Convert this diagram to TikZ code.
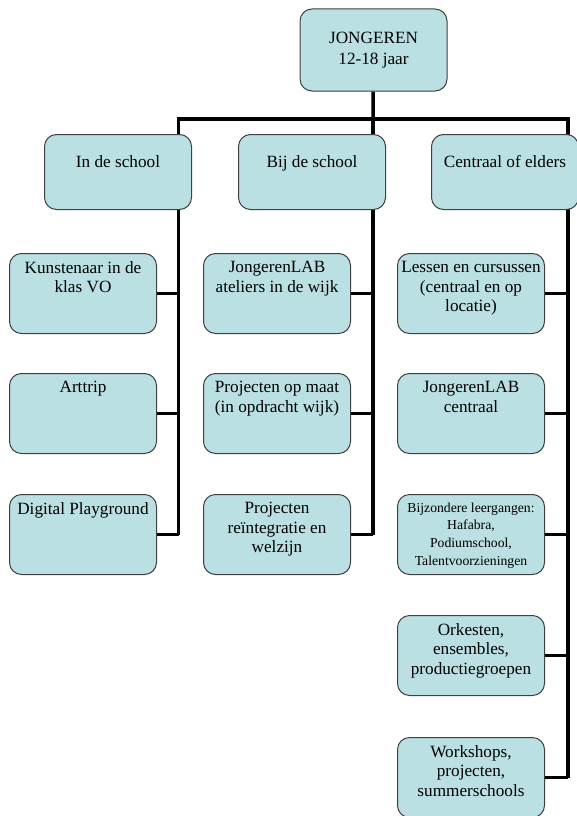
\documentclass[tikz,border=0pt]{standalone}
\usepackage{fontspec}
\setmainfont{Liberation Serif}
\definecolor{cellblue}{RGB}{186,224,227}
\pgfdeclarelayer{background}
\pgfsetlayers{background,main}
\newcommand{\celltext}[2]{\parbox[c][#1][t]{141pt}{\centering #2}}
\tikzset{
  cell/.style={draw=black!75, line width=1pt, fill=cellblue, rounded corners=12pt,
    anchor=north west, inner xsep=3pt, inner ysep=8pt, font=\fontsize{17.2}{19.5}\selectfont},
  head/.style={cell, inner ysep=21pt},
  topcell/.style={draw=black!75, line width=1pt, fill=cellblue, rounded corners=12pt,
    minimum width=147pt, minimum height=82pt, align=center, font=\fontsize{17.2}{21}\selectfont},
  link/.style={line width=3.5pt}
}
\begin{document}
\begin{tikzpicture}[x=1pt,y=-1pt]
\useasboundingbox (0,0) rectangle (577,816);
% top
\node[topcell] (jong) at (373.5,50) {JONGEREN\\12-18 jaar};
% second row
\node[head] (inschool) at (44,134) {\celltext{33pt}{In de school}};
\node[head] (bijschool) at (238,134) {\celltext{33pt}{Bij de school}};
\node[head] (centraal) at (431,134) {\celltext{33pt}{Centraal of elders}};
% in de school
\node[cell] (kunst) at (9,253) {\celltext{64pt}{Kunstenaar in de\\ klas VO}};
\node[cell] (arttrip) at (9,373) {\celltext{64pt}{Arttrip}};
\node[cell] (playground) at (9,494) {\celltext{64pt}{Digital Playground}};
% bij de school
\node[cell] (lab) at (203,253) {\celltext{64pt}{JongerenLAB\\ ateliers in de wijk}};
\node[cell] (maat) at (203,373) {\celltext{64pt}{Projecten op maat\\ (in opdracht wijk)}};
\node[cell] (reint) at (203,494) {\celltext{64pt}{Projecten\\ reïntegratie en\\ welzijn}};
% centraal of elders
\node[cell] (lessen) at (397,253) {\celltext{64pt}{Lessen en cursussen\\ (centraal en op\\ locatie)}};
\node[cell] (labc) at (397,373) {\celltext{64pt}{JongerenLAB\\ centraal}};
\node[cell] (bijz) at (397,494) {\celltext{64pt}{\fontsize{13.7}{17.8}\selectfont Bijzondere leergangen:\\ Hafabra,\\ Podiumschool,\\ Talentvoorzieningen}};
\node[cell] (orkest) at (397,615) {\celltext{64pt}{Orkesten,\\ ensembles,\\ productiegroepen}};
\node[cell] (workshops) at (397,737) {\celltext{64pt}{Workshops,\\ projecten,\\ summerschools}};

\begin{pgfonlayer}{background}
\coordinate (s1) at (178.5,119);
\coordinate (s2) at (373,119);
\coordinate (s3) at (568,119);
\draw[link] (jong) -- (s2);
\draw[link] (s1 |- playground.east) -- (s1) -- (s3) -- (s3 |- workshops.east);
\draw[link] (s2) -- (s2 |- reint.east);
\foreach \n in {kunst,arttrip,playground}
  \draw[link] (\n.east) -- (\n.east -| s1);
\foreach \n in {lab,maat,reint}
  \draw[link] (\n.east) -- (\n.east -| s2);
\foreach \n in {lessen,labc,bijz,orkest,workshops}
  \draw[link] (\n.east) -- (\n.east -| s3);
\end{pgfonlayer}
\end{tikzpicture}
\end{document}
